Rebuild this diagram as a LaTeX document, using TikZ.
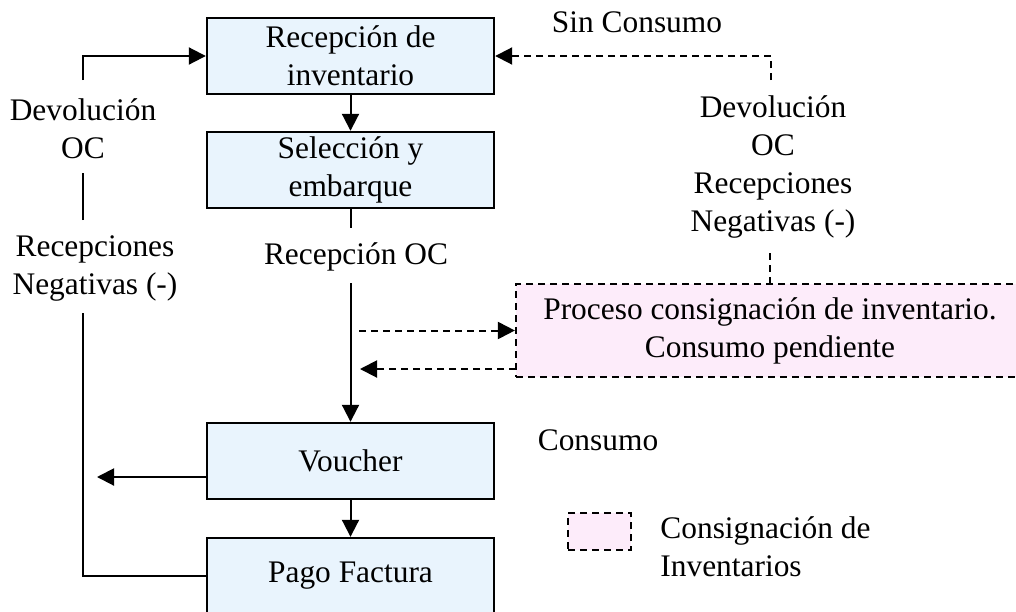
\documentclass[tikz,border=0pt]{standalone}
\usepackage{fontspec}
\setmainfont{Liberation Serif}
\usetikzlibrary{arrows.meta}
\definecolor{boxblue}{RGB}{233,244,253}
\definecolor{boxpink}{RGB}{253,236,250}
\tikzset{
  every node/.style={font=\fontsize{15.7pt}{19pt}\selectfont},
  procbox/.style={draw=black, line width=1.2pt, fill=boxblue, minimum width=143.5pt, minimum height=38pt, align=center, inner sep=0pt},
  consbox/.style={draw=black, line width=1.1pt, dash pattern=on 3.5pt off 2.5pt, fill=boxpink, align=center, inner sep=0pt},
  lbl/.style={align=center, inner sep=0pt},
  conn/.style={line width=1pt, draw=black},
  arr/.style={conn, -{Triangle[length=8.5pt,width=8.5pt]}},
  darr/.style={arr, dash pattern=on 3.5pt off 2.5pt},
  dline/.style={conn, dash pattern=on 3.5pt off 2.5pt}
}
\begin{document}
\begin{tikzpicture}[x=0.5pt,y=-0.5pt]
\clip (0,0) rectangle (1016,611);
\fill[white] (0,0) rectangle (1016,611);
% process boxes
\node[procbox] (rec) at (350.5,56) {Recepción de\\inventario};
\node[procbox] (sel) at (350.5,170) {Selección y\\embarque};
\node[procbox] (vou) at (350.5,461) {Voucher};
\node[procbox] (pago) at (350.5,576) {Pago Factura};
\node[consbox, minimum width=254pt, minimum height=46.5pt] (cons) at (770,330.5) {Proceso consignación de inventario.\\Consumo pendiente};
% labels
\node[lbl] (sinc) at (637,22) {Sin Consumo};
\node[lbl] (devL) at (83,129) {Devolución\\OC};
\node[lbl] (negL) at (95,268) {Recepciones\\Negativas (-)};
\node[lbl] (recoc) at (356,257) {Recepción OC};
\node[lbl] (devR) at (773,167) {Devolución\\OC\\Recepciones\\Negativas (-)};
\node[lbl] (consumo) at (598,440) {Consumo};
% legend
\node[consbox, minimum width=31.5pt, minimum height=18.5pt] (legbox) at (599.5,531.5) {};
\node[lbl, align=left, anchor=west] (legtxt) at (660,546.5) {Consignación de\\Inventarios};
% coordinates
\coordinate (l1) at (83,313);
\coordinate (l2) at (83,220);
\coordinate (l3) at (83,173);
\coordinate (l4) at (83,80);
\coordinate (vl) at (97,477);
\coordinate (m1) at (350.5,228);
\coordinate (m2) at (350.5,283);
\coordinate (d1) at (359,330.5);
\coordinate (d2) at (516,369);
\coordinate (d3) at (360,369);
\coordinate (r1) at (771,80);
\coordinate (r2) at (770,253);
% main flow
\draw[arr] (rec) -- (sel);
\draw[conn] (sel.south) -- (m1);
\draw[arr] (m2) -- (vou.north);
\draw[arr] (vou) -- (pago);
\draw[arr] (vou.west |- vl) -- (vl);
% left return path
\draw[conn] (pago.west) -| (l1);
\draw[conn] (l2) -- (l3);
\draw[arr] (l4) |- (rec.west);
% consignment
\draw[darr] (d1) -- (cons.west);
\draw[darr] (d2) -- (d3);
\draw[darr] (r1) |- (rec.east);
\draw[dline] (r2) -- (cons.north);
\end{tikzpicture}
\end{document}
